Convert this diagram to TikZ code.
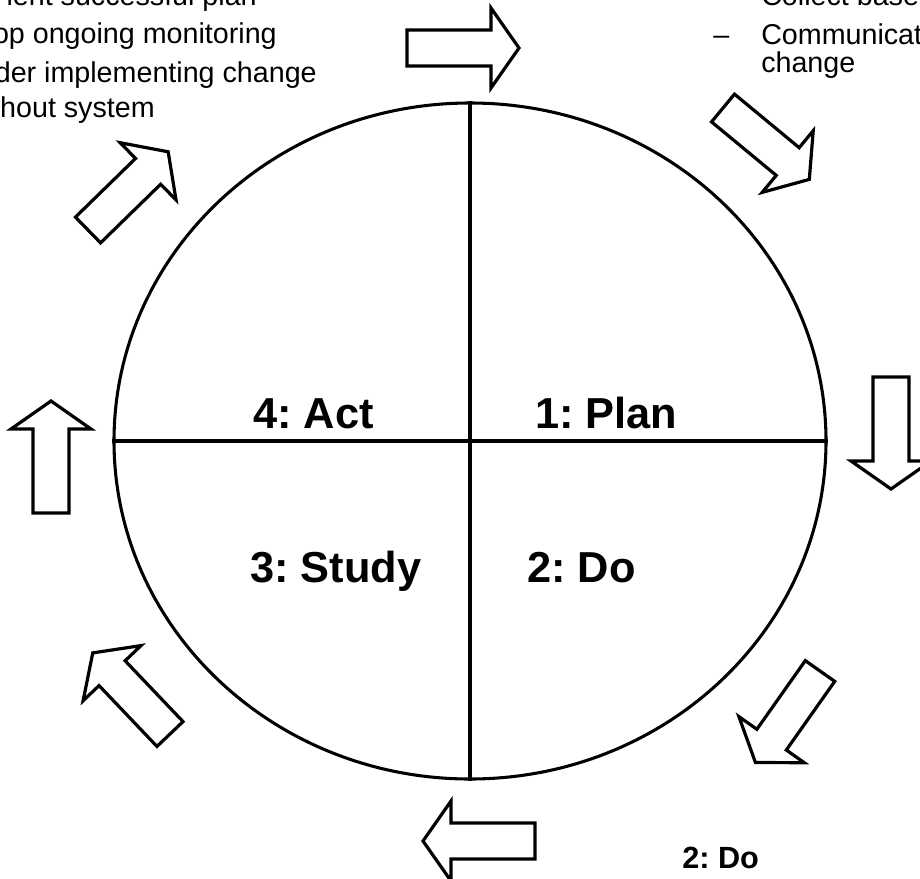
\documentclass[tikz,border=0pt]{standalone}
\usepackage{fontspec}
\setmainfont{Liberation Sans}
\usetikzlibrary{shapes.geometric}
\frenchspacing

\tikzset{
  ring/.style={ellipse, draw, line width=2.3pt, inner sep=0pt,
    minimum width=534pt, minimum height=507pt},
  divider/.style={line width=2.3pt},
  barrow/.style={draw, fill=white, line width=2.4pt, line join=miter},
  body/.style={inner sep=0pt, font=\fontsize{21.5}{26}\selectfont},
  quad/.style={inner sep=0pt, font=\fontsize{32.5}{40}\selectfont\bfseries},
  small bold/.style={inner sep=0pt, font=\fontsize{23}{28}\selectfont\bfseries}
}

% hollow block arrow: tail centre (#1,#2), pointing at angle #3
\newcommand\blockarrow[3]{%
  \path[barrow, shift={(#1,#2)}, rotate=#3]
    (0,-18) -- (84,-18) -- (84,-40) -- (112,0) -- (84,40) -- (84,18) -- (0,18) -- cycle;}

\begin{document}
\begin{tikzpicture}[x=0.75pt, y=-0.75pt]
  \useasboundingbox (0,0) rectangle (920,878);

  % the cycle and its four quadrants
  \node[ring] (cycle) at (470,441) {};
  \draw[divider] (cycle.north) -- (cycle.south);
  \draw[divider] (cycle.west) -- (cycle.east);

  \node[quad, anchor=base west] (act)   at (253,428) {4: Act};
  \node[quad, anchor=base west] (plan)  at (535,428) {1: Plan};
  \node[quad, anchor=base west] (study) at (250,582) {3: Study};
  \node[quad, anchor=base west] (do)    at (527,582) {2: Do};

  % arrows running clockwise round the cycle
  \blockarrow{407}{48}{0}
  \blockarrow{723}{108}{-39.6}
  \blockarrow{891}{377}{-90}
  \blockarrow{820}{671}{-125.2}
  \blockarrow{535}{841}{180}
  \blockarrow{170}{734}{133.6}
  \blockarrow{51}{513}{90}
  \blockarrow{88}{230}{44.3}

  % notes for the Act step
  \node[body, anchor=base east] (a1) at (257,5)   {ient successful plan};
  \node[body, anchor=base east] (a2) at (277,43)  {op ongoing monitoring};
  \node[body, anchor=base east] (a3) at (317,82)  {der implementing change};
  \node[body, anchor=base east] (a4) at (155,117) {hout system};

  % notes for the Plan step
  \node[body, anchor=base west] (p1) at (761,5)  {Collect base};
  \node[body, anchor=base west] (pd) at (713,44) {–};
  \node[body, anchor=base west] (p2) at (761,44) {Communicat};
  \node[body, anchor=base west] (p3) at (761,72) {change};

  \node[small bold, anchor=base west] (dohead) at (682,868) {2: Do};
\end{tikzpicture}
\end{document}
